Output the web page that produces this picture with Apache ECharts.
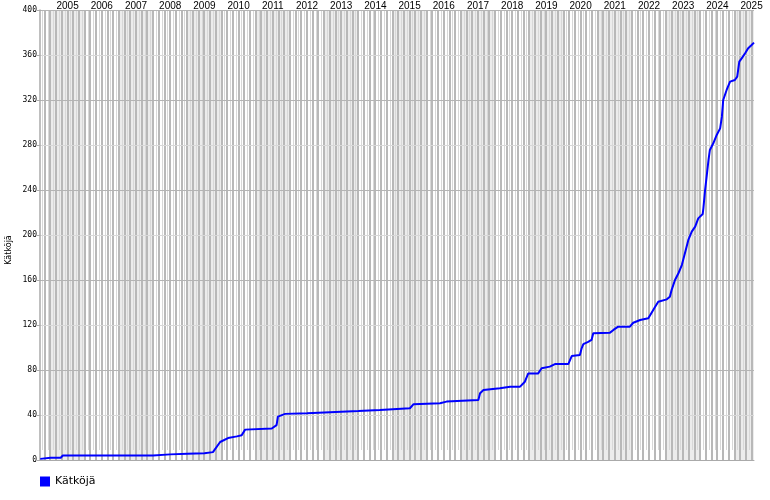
<!DOCTYPE html>
<html><head><meta charset="utf-8">
<script src="https://cdn.jsdelivr.net/npm/echarts@6/dist/echarts.min.js"></script>
<style>html,body{margin:0;padding:0;background:#fff}#c{width:770px;height:500px}</style>
</head><body><div id="c"></div>
<script>
const seriesName = 'Kätköjä';
const yearLabels = [2005,2006,2007,2008,2009,2010,2011,2012,2013,2014,2015,2016,2017,2018,2019,2020,2021,2022,2023,2024,2025];
const bgYears = [2004].concat(yearLabels);
// decimal years
const dates = [2004.70,2005.00,2005.30,2005.36,2006.50,2007.50,2008.00,2008.50,2009.00,2009.50,2009.75,2009.96,2010.19,2010.45,2010.59,2010.69,2011.47,2011.61,2011.65,2011.86,2012.50,2013.17,2014.00,2014.63,2015.51,2015.61,2016.39,2016.58,2017.51,2017.56,2017.66,2018.14,2018.44,2018.73,2018.87,2018.97,2019.26,2019.36,2019.60,2019.75,2020.14,2020.24,2020.48,2020.53,2020.58,2020.72,2020.82,2020.87,2021.36,2021.46,2021.60,2021.94,2022.04,2022.24,2022.48,2022.53,2022.68,2022.77,2023.02,2023.11,2023.16,2023.26,2023.36,2023.46,2023.55,2023.65,2023.75,2023.85,2023.94,2024.07,2024.09,2024.14,2024.19,2024.24,2024.28,2024.38,2024.48,2024.58,2024.63,2024.67,2024.77,2024.87,2025.01,2025.08,2025.14,2025.21,2025.31,2025.40,2025.50,2025.57];
const counts = [1,2,2,4,4,4,4,5,5.5,6,7,16,19.5,21,22,27,28,31,38.5,41,41.5,42.4,43.5,44.4,46,49.5,50.4,51.9,53.3,59.3,62.2,63.7,65.2,65.2,69.6,77,77,81.5,83,85.3,85.3,92.4,93.3,99.3,103,105,106.7,112.6,113.2,115.6,118.5,118.5,122,124.4,126,127.4,136.3,140.7,142.8,145.2,151,160,166,173.3,183.7,195.6,203,207.4,214.8,218.7,223.7,240,253.3,266.7,275.6,281.5,288.9,294.8,305,320,328.9,336.3,337.8,340.7,354.1,357,361.5,366,368.9,371];

const X_MIN = 2004.693, X_MAX = 2025.57;

function renderBg(params, api) {
  const yr = api.value(0);
  const cs = params.coordSys;
  const children = [];
  const x0 = api.coord([yr, 0])[0], x1 = api.coord([yr + 1, 0])[0];
  if (yr % 2 === 1) {
    const r = echarts.graphic.clipRectByRect({x: x0, y: cs.y, width: x1 - x0, height: cs.height}, cs);
    if (r) children.push({type: 'rect', shape: r, style: {fill: '#ececec'}});
  }
  for (let m = 0; m < 12; m++) {
    const dark = m % 2 === 0;
    const xr = Math.round(api.coord([yr + m / 12, 0])[0]);
    const x = dark ? xr : xr + 0.5;
    if (x < cs.x + 1 || x > cs.x + cs.width) continue;
    children.push({type: 'line', shape: {x1: x, y1: cs.y, x2: x, y2: dark ? cs.y + cs.height : cs.y + cs.height - 10},
      style: {stroke: dark ? '#b8b8b8' : '#d8d8d8', lineWidth: dark ? 2 : 1}});
  }
  if (yearLabels.indexOf(yr) >= 0) {
    children.push({type: 'text', x: (x0 + x1) / 2, y: 1,
      style: {text: String(yr), fill: '#000', fontSize: 10, fontFamily: 'Liberation Sans', align: 'center', verticalAlign: 'top'}});
  }
  return {type: 'group', children};
}

const chart = echarts.init(document.getElementById('c'), null, {renderer: 'canvas'});
chart.setOption({
  animation: false,
  backgroundColor: '#fff',
  grid: {left: 40, right: 16, top: 10, bottom: 40, containLabel: false},
  xAxis: {type: 'value', min: X_MIN, max: X_MAX,
    axisLine: {show: true, lineStyle: {color: '#aaaaaa', width: 1}},
    axisTick: {show: false}, axisLabel: {show: false}, splitLine: {show: false}},
  yAxis: {type: 'value', min: 0, max: 400, interval: 40,
    axisLine: {show: true, lineStyle: {color: '#aaaaaa', width: 1.5}},
    axisTick: {show: true, length: 3, lineStyle: {color: '#aaaaaa'}},
    axisLabel: {color: '#000', fontSize: 8, fontFamily: 'DejaVu Sans Mono', margin: 3},
    splitLine: {show: true, lineStyle: {color: ['#b4b4b4', '#d8d8d8'], width: 1}}},
  legend: {show: true, left: 40, top: 476, padding: 0, icon: 'rect', itemWidth: 10, itemHeight: 10, itemGap: 10,
    data: [seriesName], textStyle: {color: '#000', fontSize: 11, fontFamily: 'DejaVu Sans'}},
  graphic: [{type: 'text', x: 9, y: 250, rotation: Math.PI / 2,
    style: {text: seriesName, fill: '#000', fontSize: 8, fontFamily: 'DejaVu Sans', align: 'center', verticalAlign: 'middle'}}],
  series: [
    {type: 'custom', name: 'bg', z: -1, silent: true, renderItem: renderBg,
      data: bgYears.map(y => [y, 0]), clip: false},
    {type: 'line', name: seriesName, color: '#0000ff', showSymbol: false,
      lineStyle: {color: '#0000ff', width: 2},
      data: dates.map((d, i) => [d, counts[i]])}
  ]
});
</script></body></html>
